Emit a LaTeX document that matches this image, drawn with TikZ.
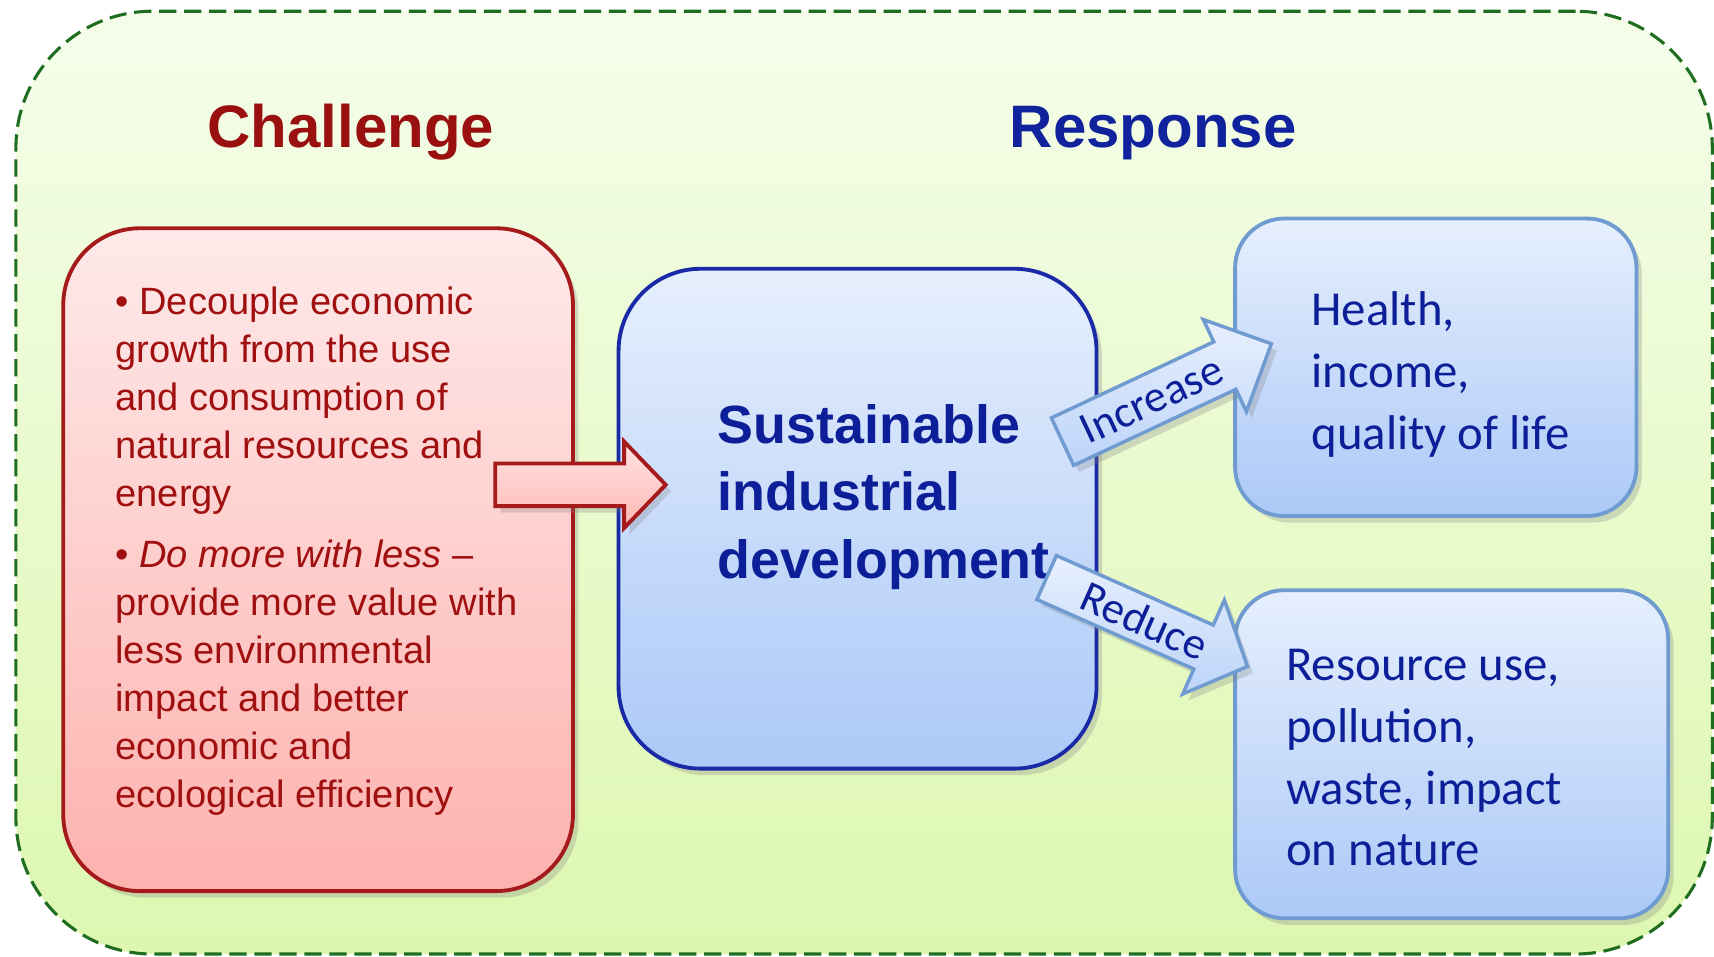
\documentclass[tikz,border=0pt]{standalone}
\usepackage{fontspec}
\setmainfont{Liberation Sans}
\newfontfamily\calfont{Carlito}
\usetikzlibrary{shadows}
\definecolor{outerTop}{HTML}{F5FDEA}
\definecolor{outerBot}{HTML}{DDF7B0}
\definecolor{outerLine}{HTML}{1F6E1F}
\definecolor{redTop}{HTML}{FEEAEA}
\definecolor{redBot}{HTML}{FDB2AE}
\definecolor{redLine}{HTML}{A51A1A}
\definecolor{redText}{HTML}{A01010}
\definecolor{titleRed}{HTML}{9A0F0F}
\definecolor{titleBlue}{HTML}{10229C}
\definecolor{blueTop}{HTML}{E6EFFD}
\definecolor{blueBot}{HTML}{ABC9F7}
\definecolor{blueLine}{HTML}{1A2AA6}
\definecolor{softLine}{HTML}{6F9BD1}
\definecolor{blueText}{HTML}{0D1F98}
\definecolor{arrTop}{HTML}{E8F0FD}
\definecolor{arrBot}{HTML}{BCD4F9}
\definecolor{rarrTop}{HTML}{FFE2E2}
\definecolor{rarrBot}{HTML}{FDB8B4}
\begin{document}
\begin{tikzpicture}[x=0.01cm,y=-0.01cm,
  frame/.style={draw=outerLine, line width=0.8pt, dash pattern=on 4.5pt off 2pt,
    top color=outerTop, bottom color=outerBot, rounded corners=1.25cm,
    minimum width=15.51cm, minimum height=8.62cm, inner sep=0},
  shadowed/.style={drop shadow={opacity=0.28, shadow xshift=0.05cm, shadow yshift=-0.06cm}},
  redbox/.style={draw=redLine, line width=1pt, top color=redTop, bottom color=redBot,
    rounded corners=0.7cm, inner sep=0, shadowed},
  mainbox/.style={draw=blueLine, line width=1pt, top color=blueTop, bottom color=blueBot,
    rounded corners=0.75cm, inner sep=0, shadowed},
  resbox/.style={draw=softLine, line width=1pt, top color=blueTop, bottom color=blueBot,
    rounded corners=0.45cm, inner sep=0, shadowed},
  title/.style={font=\bfseries\fontsize{15.6}{18}\selectfont, anchor=base, inner sep=0},
  redtxt/.style={font=\fontsize{9.9}{12.5}\selectfont, text=redText, align=left,
    anchor=north west, inner sep=0},
  maintxt/.style={font=\bfseries\fontsize{14}{17.6}\selectfont, text=blueText, align=left,
    anchor=north west, inner sep=0},
  restxt/.style={font=\calfont\fontsize{12.7}{16.1}\selectfont, text=blueText, align=left,
    anchor=north west, inner sep=0},
  lbl/.style={font=\calfont\fontsize{11.6}{13}\selectfont, text=blueText, inner sep=0},
  bluearrow/.style={draw=softLine, line width=0.9pt, top color=arrTop, bottom color=arrBot,
    line join=miter, shadowed},
  redarrow/.style={draw=redLine, line width=1pt, top color=rarrTop, bottom color=rarrBot,
    line join=miter, shadowed}
]
\fill[white] (0,0) rectangle (1568,875);
\useasboundingbox (0,0) rectangle (1568,875);

\node[frame] (frame) at (790.5,441.5) {};

\node[title, text=titleRed] (challenge) at (321,134.5) {Challenge};
\node[title, text=titleBlue] (response) at (1055,134.5) {Response};

% boxes
\node[redbox, minimum width=4.66cm, minimum height=6.06cm] (chal) at (291,512) {};
\node[mainbox, minimum width=4.37cm, minimum height=4.57cm] (sid) at (784.5,474.5) {};
\node[resbox, minimum width=3.67cm, minimum height=2.72cm] (inc) at (1313.5,336) {};
\node[resbox, minimum width=3.96cm, minimum height=3.00cm] (red) at (1328,690) {};

% texts
\node[redtxt] (chaltext) at (105,262) {%
  • Decouple economic\\
  growth from the use\\
  and consumption of\\
  natural resources and\\
  energy\\[3.2pt]
  • \textit{Do more with less} –\\
  provide more value with\\
  less environmental\\
  impact and better\\
  economic and\\
  ecological efficiency};

\node[maintxt] (sidtext) at (656,369) {Sustainable\\ industrial\\ development};

\node[restxt] (inctext) at (1199,266) {Health,\\ income,\\ quality of life};
\node[restxt] (redtext) at (1176,593) {Resource use,\\ pollution,\\ waste, impact\\ on nature};

% red block arrow (challenge -> sustainable development)
\draw[redarrow] (453,424) -- (571,424) -- (571,404) -- (609,443.5) -- (571,483)
  -- (571,463) -- (453,463) -- cycle;

% Increase arrow
\begin{scope}[shift={(972,404)}, rotate=25.1]
  \draw[bluearrow] (0,-24) -- (164,-24) -- (164,-46.5) -- (211,0) -- (164,46.5)
    -- (164,24) -- (0,24) -- cycle;
  \node[lbl, rotate=25.1] (inclabel) at (90,0) {Increase};
\end{scope}

% Reduce arrow
\begin{scope}[shift={(957.5,528.3)}, rotate=-23.9]
  \draw[bluearrow] (0,-22) -- (157,-22) -- (157,-47) -- (201,0) -- (157,47)
    -- (157,22) -- (0,22) -- cycle;
  \node[lbl, rotate=-23.9] (redlabel) at (98,0) {Reduce};
\end{scope}
\end{tikzpicture}
\end{document}
